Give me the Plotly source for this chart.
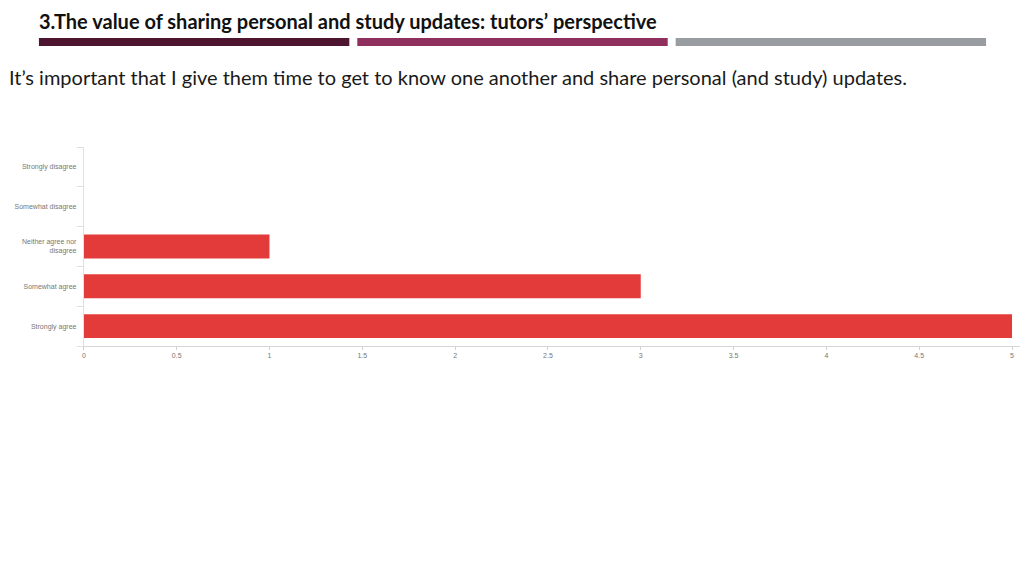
import plotly.graph_objects as go

# Respuestas de la encuesta (de arriba hacia abajo).
CATEGORIES = [
    "Strongly disagree",
    "Somewhat disagree",
    "Neither agree nor<br>disagree",
    "Somewhat agree",
    "Strongly agree",
]
COUNTS = [0, 0, 1, 3, 5]
X_TICKS = [0, 0.5, 1, 1.5, 2, 2.5, 3, 3.5, 4, 4.5, 5]
X_LABELS = ["0", "0.5", "1", "1.5", "2", "2.5", "3", "3.5", "4", "4.5", "5"]

TITLE = "3.The value of sharing personal and study updates: tutors’ perspective"
SUBTITLE = (
    "It’s important that I give them time to get to know one another "
    "and share personal (and study) updates."
)

W, H = 1024, 576


def px_x(p):
    return p / W


def px_y(p):
    return 1 - p / H


fig = go.Figure()

fig.add_trace(
    go.Bar(
        x=COUNTS,
        y=CATEGORIES,
        orientation="h",
        marker_color="#e33b3a",
        marker_line_width=0,
        width=0.6,
    )
)

fig.update_xaxes(
    domain=[px_x(82), px_x(1020)],
    range=[0, 5 * 938 / 930],
    tickvals=X_TICKS,
    ticktext=X_LABELS,
    ticks="outside",
    ticklen=3,
    tickcolor="#d0d0d0",
    tickfont=dict(family="Liberation Sans", size=7, color="#777777"),
    showline=True,
    linecolor="#d6d6d6",
    linewidth=1,
    showgrid=False,
    zeroline=False,
)

fig.update_yaxes(
    domain=[px_y(346), px_y(147)],
    categoryorder="array",
    categoryarray=CATEGORIES[::-1],
    ticks="outside",
    tickson="boundaries",
    ticklen=6,
    tickcolor="#e0e0e0",
    ticklabelstandoff=5,
    tickfont=dict(family="Liberation Sans", size=7, color="#777777"),
    showline=True,
    linecolor="#e0e0e0",
    linewidth=1,
    showgrid=False,
    zeroline=False,
)

# Barras de colores bajo el título.
for x0, x1, color in [(37, 348, "#4e1530"), (356, 667, "#8f2f5e"), (675, 986, "#999da1")]:
    fig.add_shape(
        type="rect",
        xref="paper",
        yref="paper",
        x0=px_x(x0),
        x1=px_x(x1),
        y0=px_y(46),
        y1=px_y(38),
        fillcolor=color,
        line_width=0,
    )

fig.add_annotation(
    x=px_x(35),
    y=px_y(21),
    xref="paper",
    yref="paper",
    xanchor="left",
    yanchor="middle",
    showarrow=False,
    text=f"<b>{TITLE}</b>",
    font=dict(family="Lato", size=20, color="#111111"),
)

fig.add_annotation(
    x=px_x(5),
    y=px_y(77),
    xref="paper",
    yref="paper",
    xanchor="left",
    yanchor="middle",
    showarrow=False,
    text=SUBTITLE,
    font=dict(family="Lato", size=20, color="#1a1a1a"),
)

fig.update_layout(
    width=W,
    height=H,
    margin=dict(l=0, r=0, t=0, b=0),
    showlegend=False,
    plot_bgcolor="#ffffff",
    paper_bgcolor="#ffffff",
    font_family="Lato",
)

fig.write_html(
    "out.html",
    config={"displayModeBar": False},
    post_script="document.body.style.margin='0';",
)
